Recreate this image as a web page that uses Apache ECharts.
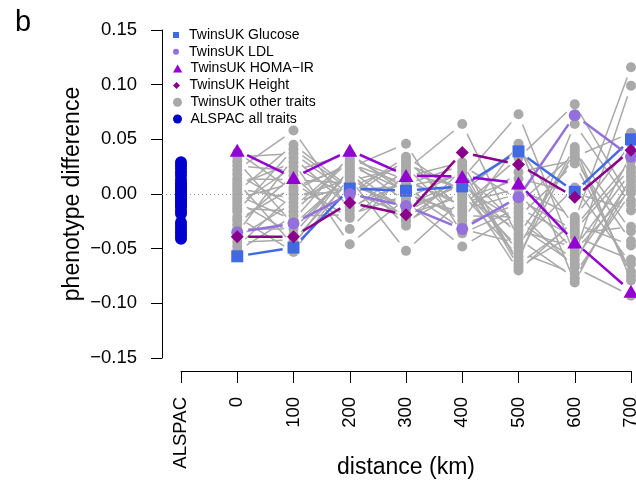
<!DOCTYPE html>
<html>
<head>
<meta charset="utf-8">
<script src="https://cdn.jsdelivr.net/npm/echarts@6/dist/echarts.min.js"></script>
<style>
html, body { margin: 0; padding: 0; background: #fff; }
#chart { width: 636px; height: 482px; }
</style>
</head>
<body>
<div id="chart"></div>
<script>
// x position 0 is ALSPAC, 1..8 are the TwinsUK distance bins 0..700 km
var xLabels = ['ALSPAC', '0', '100', '200', '300', '400', '500', '600', '700'];
var legendNames = ['TwinsUK Glucose', 'TwinsUK LDL', 'TwinsUK HOMA\u2212IR', 'TwinsUK Height',
  'TwinsUK other traits', 'ALSPAC all traits'];

var alspac = [0.029, 0.026, 0.023, 0.020, 0.017, 0.013, 0.010, 0.008, 0.006, 0.004, 0.002, 0.000,
  -0.002, -0.004, -0.006, -0.008, -0.010, -0.012, -0.015, -0.018, -0.026, -0.029, -0.032, -0.035,
  -0.038, -0.041];

var glucose = [-0.057, -0.049, 0.005, 0.003, 0.007, 0.039, 0.002, 0.050];
var ldl = [-0.035, -0.027, 0.000, -0.011, -0.032, -0.003, 0.072, 0.034];
var homaIR = [0.040, 0.015, 0.040, 0.017, 0.016, 0.010, -0.044, -0.089];
var heightTrait = [-0.039, -0.039, -0.008, -0.019, 0.038, 0.027, -0.003, 0.040];

var otherTraits = [
  [0.038, 0.003, 0.028, 0.009, 0.026, -0.005, -0.033, 0.024],
  [0.034, 0.037, 0.000, 0.034, 0.000, -0.057, 0.040, -0.034],
  [0.030, -0.028, 0.018, -0.022, 0.014, 0.073, -0.056, 0.099],
  [0.026, 0.021, 0.037, 0.001, -0.020, -0.021, 0.028, -0.071],
  [0.022, 0.058, -0.015, 0.022, 0.064, -0.041, -0.077, 0.008],
  [0.018, -0.012, 0.032, 0.013, -0.011, 0.033, 0.082, -0.006],
  [0.014, 0.013, 0.010, -0.013, 0.008, -0.070, -0.024, 0.116],
  [0.011, -0.047, 0.024, 0.046, -0.036, -0.013, -0.039, -0.060],
  [0.008, 0.029, -0.046, -0.004, 0.020, -0.029, -0.064, 0.036],
  [0.005, -0.004, 0.014, -0.052, -0.005, 0.014, 0.001, -0.015],
  [0.002, 0.045, 0.006, 0.028, 0.004, -0.049, 0.043, -0.079],
  [-0.001, -0.024, 0.035, 0.005, -0.024, 0.046, -0.081, 0.016],
  [-0.004, 0.010, -0.022, 0.016, 0.029, -0.064, -0.027, -0.047],
  [-0.007, -0.037, 0.022, -0.016, 0.010, -0.037, 0.034, 0.056],
  [-0.010, 0.025, -0.003, 0.031, -0.014, 0.000, -0.052, 0.004],
  [-0.013, -0.016, 0.030, -0.007, -0.048, -0.017, -0.067, -0.093],
  [-0.016, 0.041, 0.004, 0.007, 0.017, -0.061, 0.064, -0.010],
  [-0.021, -0.053, 0.016, -0.025, 0.002, 0.042, -0.030, 0.030],
  [-0.024, 0.006, 0.026, 0.003, -0.032, -0.045, 0.006, -0.064],
  [-0.028, 0.017, -0.032, 0.019, 0.006, -0.025, -0.060, 0.012],
  [-0.032, -0.032, 0.020, -0.029, 0.023, -0.067, -0.036, -0.030],
  [-0.036, 0.033, -0.012, 0.011, -0.008, 0.005, -0.021, 0.046],
  [-0.040, -0.008, 0.008, -0.010, 0.012, -0.053, -0.073, 0.001],
  [-0.044, -0.042, 0.012, 0.025, -0.028, -0.009, 0.037, -0.075],
  [-0.048, 0.000, 0.002, -0.019, -0.002, -0.033, -0.049, 0.020],
  [-0.052, -0.020, -0.019, -0.001, -0.017, 0.020, 0.031, -0.043]
];

var FONT = '"Liberation Sans", Arial, Helvetica, sans-serif';
var GAP = 11; // px left open at each end of a segment, like R's type = "b"

function toPoints(vals) {
  return vals.map(function (v, i) { return [i + 1, v]; });
}
function toSegments(vals) {
  var segs = [];
  for (var i = 0; i < vals.length - 1; i++) {
    segs.push([i + 1, vals[i], i + 2, vals[i + 1]]);
  }
  return segs;
}
function gapLine(color, width) {
  return function (params, api) {
    var a = api.coord([api.value(0), api.value(1)]);
    var b = api.coord([api.value(2), api.value(3)]);
    var dx = b[0] - a[0], dy = b[1] - a[1];
    var len = Math.sqrt(dx * dx + dy * dy);
    var g = GAP / len;
    return {
      type: 'line',
      shape: { x1: a[0] + dx * g, y1: a[1] + dy * g, x2: b[0] - dx * g, y2: b[1] - dy * g },
      style: { stroke: color, lineWidth: width }
    };
  };
}

var otherPoints = [], otherSegs = [];
otherTraits.forEach(function (t) {
  otherPoints = otherPoints.concat(toPoints(t));
  otherSegs = otherSegs.concat(toSegments(t));
});

var highlight = [
  { name: legendNames[0], vals: glucose, color: '#4169E1', symbol: 'rect', size: 12 },
  { name: legendNames[1], vals: ldl, color: '#9370DB', symbol: 'circle', size: 12 },
  { name: legendNames[2], vals: homaIR, color: '#9400D3', symbol: 'triangle', size: [15, 13] },
  { name: legendNames[3], vals: heightTrait, color: '#8B008B', symbol: 'diamond', size: [13, 13] }
];

var series = [
  {
    name: 'other segments',
    type: 'custom',
    xAxisIndex: 0, yAxisIndex: 0,
    renderItem: gapLine('#A9A9A9', 1.5),
    encode: { x: [0, 2], y: [1, 3] },
    data: otherSegs,
    z: 1,
    silent: true,
    markLine: {
      silent: true,
      symbol: 'none',
      label: { show: false },
      lineStyle: { color: '#999', type: [1, 3], width: 1 },
      data: [{ yAxis: 0 }]
    }
  },
  {
    name: legendNames[4],
    type: 'scatter',
    xAxisIndex: 0, yAxisIndex: 0,
    symbol: 'circle',
    symbolSize: 10,
    itemStyle: { color: '#A9A9A9', opacity: 1 },
    data: otherPoints,
    z: 2
  }
];

highlight.forEach(function (h, k) {
  series.push({
    name: h.name + ' segments',
    type: 'custom',
    xAxisIndex: 0, yAxisIndex: 0,
    renderItem: gapLine(h.color, 2.5),
    encode: { x: [0, 2], y: [1, 3] },
    data: toSegments(h.vals),
    z: 3 + k * 2,
    silent: true
  });
  series.push({
    name: h.name,
    type: 'scatter',
    xAxisIndex: 0, yAxisIndex: 0,
    symbol: h.symbol,
    symbolSize: h.size,
    itemStyle: { color: h.color, opacity: 1 },
    data: toPoints(h.vals),
    z: 4 + k * 2
  });
});

series.push({
  name: legendNames[5],
  type: 'scatter',
  xAxisIndex: 0, yAxisIndex: 0,
  symbol: 'circle',
  symbolSize: 12,
  itemStyle: { color: '#0000CD', opacity: 1 },
  data: alspac.map(function (v) { return [0, v]; }),
  z: 12
});

// legend, one row per component so each marker can have its own size
var legendIcons = ['path://M0,0L1,0L1,1L0,1Z', 'circle', 'path://M0.5,0L1,0.866L0,0.866Z',
  'path://M0.5,0L1,0.5L0.5,1L0,0.5Z', 'circle', 'circle'];
var legendSizes = [6, 6, 8, 7, 9, 9];
var legends = legendNames.map(function (n, i) {
  return {
    data: [{ name: n, icon: legendIcons[i] }],
    left: 173,
    top: 28 + i * 16.8,
    padding: 0,
    itemWidth: 16,
    itemHeight: legendSizes[i],
    symbolKeepAspect: true,
    selectedMode: false,
    textStyle: { color: '#000', fontSize: 14, fontFamily: FONT, lineHeight: 14 }
  };
});

var chart = echarts.init(document.getElementById('chart'));
chart.setOption({
  animation: false,
  backgroundColor: '#fff',
  title: {
    text: 'b',
    left: 15,
    top: 8,
    padding: 0,
    textStyle: { color: '#000', fontSize: 29, fontWeight: 'normal', fontFamily: FONT }
  },
  legend: legends,
  grid: [
    { left: 162, right: 0, top: 30, bottom: 124, outerBoundsMode: 'none' },
    { left: 181, right: 5, top: 30, bottom: 111, outerBoundsMode: 'none' }
  ],
  xAxis: [
    {
      gridIndex: 0,
      type: 'value',
      min: -19 / 56.25,
      max: 455 / 56.25,
      show: false
    },
    {
      gridIndex: 1,
      type: 'value',
      min: 0,
      max: 8,
      interval: 1,
      name: 'distance (km)',
      nameLocation: 'middle',
      nameGap: 85,
      nameMoveOverlap: false,
      nameTextStyle: { color: '#000', fontSize: 23, fontFamily: FONT },
      axisLine: { show: true, onZero: false, lineStyle: { color: '#000', width: 1 } },
      axisTick: { show: true, length: 12, lineStyle: { color: '#000', width: 1 } },
      axisLabel: {
        rotate: 90,
        margin: 26,
        color: '#000',
        fontSize: 18.5,
        fontFamily: FONT,
        showMinLabel: true,
        showMaxLabel: true,
        formatter: function (v) { return xLabels[Math.round(v)]; }
      },
      splitLine: { show: false }
    }
  ],
  yAxis: [
    {
      gridIndex: 0,
      type: 'value',
      min: -0.15,
      max: 0.15,
      interval: 0.05,
      name: 'phenotype difference',
      nameLocation: 'middle',
      nameRotate: 90,
      nameGap: 78,
      nameMoveOverlap: false,
      nameTextStyle: { color: '#000', fontSize: 23, fontFamily: FONT },
      axisLine: { show: true, onZero: false, lineStyle: { color: '#000', width: 1 } },
      axisTick: { show: true, length: 11, lineStyle: { color: '#000', width: 1 } },
      axisLabel: {
        margin: 25,
        color: '#000',
        fontSize: 18.5,
        fontFamily: FONT,
        formatter: function (v) {
          var s = Math.abs(v).toFixed(2);
          return v < -1e-9 ? '\u2212' + s : s;
        }
      },
      splitLine: { show: false }
    },
    {
      gridIndex: 1,
      type: 'value',
      min: 0,
      max: 1,
      show: false
    }
  ],
  series: series
});
</script>
</body>
</html>
